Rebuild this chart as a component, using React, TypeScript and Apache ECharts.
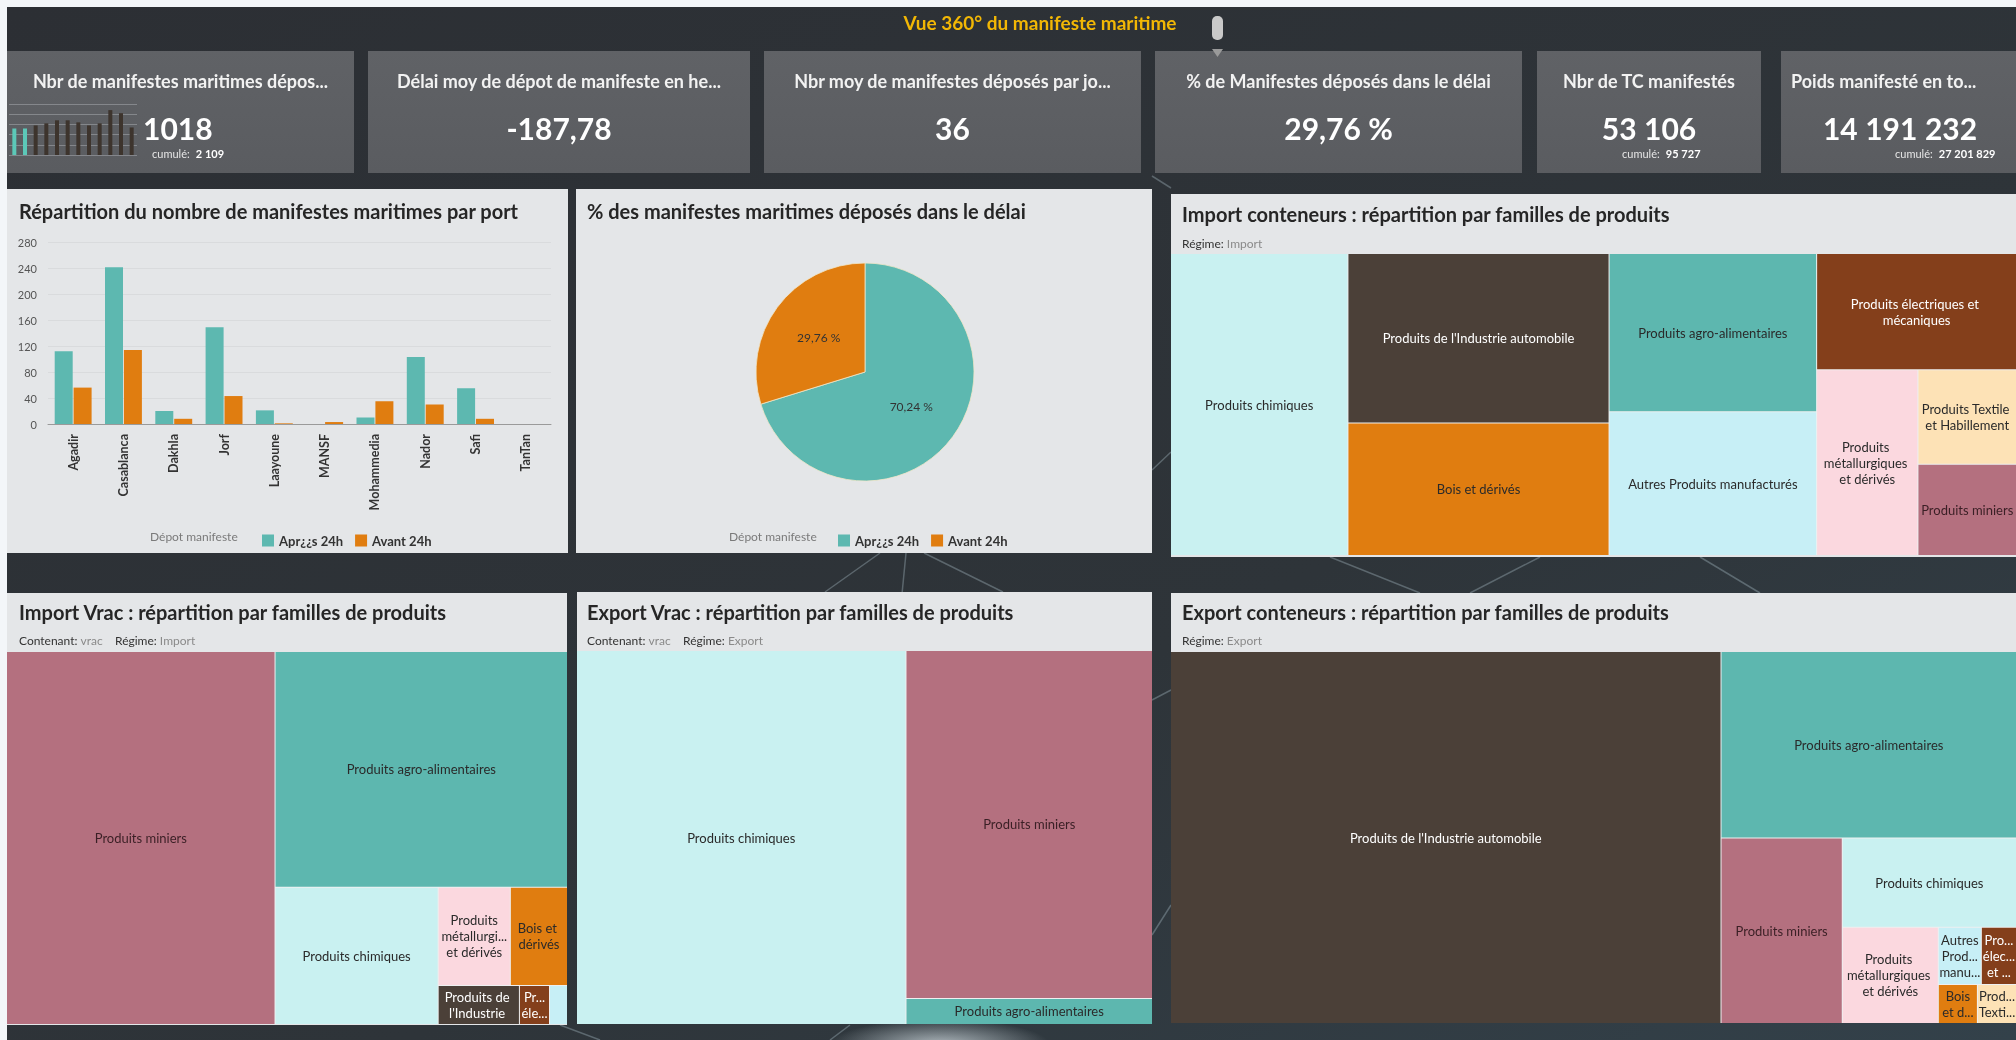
import React, { useEffect, useRef } from "react";
import * as echarts from "echarts";

// ---------- DATA ----------
const ports = ["Agadir", "Casablanca", "Dakhla", "Jorf", "Laayoune", "MANSF", "Mohammedia", "Nador", "Safi", "TanTan"];
const apres24h = [112, 241, 20, 149, 21, 0, 10, 103, 55, 0];
const avant24h = [56, 114, 8, 43, 1, 3, 35, 30, 8, 0];
const seriesNames = ["Apr¿¿s 24h", "Avant 24h"];
const pieValues = [715, 303];

const sparkValues = [26, 26, 29, 31, 34, 34, 32, 29, 31, 44, 41, 27];

const kpiTitles = [
  "Nbr de manifestes maritimes dépos...",
  "Délai moy de dépot de manifeste en he...",
  "Nbr moy de manifestes déposés par jo...",
  "% de Manifestes déposés dans le délai",
  "Nbr de TC manifestés",
  "Poids manifesté en to...",
];
const kpiValues = ["1018", "-187,78", "36", "29,76 %", "53\u202F106", "14\u202F191\u202F232"];
const kpiCumul = ["2\u202F109", "", "", "", "95\u202F727", "27\u202F201\u202F829"];

const importTCNames = [
  "Produits chimiques",
  "Produits de l'Industrie automobile",
  "Bois et dérivés",
  "Produits agro-alimentaires",
  "Autres Produits manufacturés",
  "Produits électriques et mécaniques",
  "Produits métallurgiques et dérivés",
  "Produits Textile et Habillement",
  "Produits miniers",
];
const importTCValues = [53000, 43800, 34200, 32500, 29500, 23000, 18600, 9200, 8900];

const importVracNames = [
  "Produits miniers",
  "Produits agro-alimentaires",
  "Produits chimiques",
  "Produits métallurgiques et dérivés",
  "Bois et dérivés",
  "Produits de l'Industrie automobile",
  "Produits électriques et mécaniques",
  "Autres Produits manufacturés",
];
const importVracValues = [99700, 68600, 22300, 7060, 5590, 3160, 1170, 700];

const exportVracNames = ["Produits chimiques", "Produits miniers", "Produits agro-alimentaires"];
const exportVracValues = [122700, 85400, 6400];

const exportTCNames = [
  "Produits de l'Industrie automobile",
  "Produits agro-alimentaires",
  "Produits miniers",
  "Produits chimiques",
  "Produits métallurgiques et dérivés",
  "Autres Produits manufacturés",
  "Produits électriques et mécaniques",
  "Produits Textile et Habillement",
  "Bois et dérivés",
];
const exportTCValues = [204000, 54900, 22400, 15500, 9200, 2450, 2000, 1520, 1520];

// ---------- STYLE ----------
const W = 2016;
const H = 1040;
const FONT = "Lato, 'Open Sans', sans-serif";
const TEAL = "#5db8b0";
const ORANGE = "#e07d10";
const PANEL = "#e4e6e8";
const familyColors: Record<string, string> = {
  "Produits chimiques": "#c9f1f1",
  "Produits de l'Industrie automobile": "#4b4038",
  "Bois et dérivés": "#e07d10",
  "Produits agro-alimentaires": "#5db7af",
  "Autres Produits manufacturés": "#c7eff6",
  "Produits électriques et mécaniques": "#843f1b",
  "Produits métallurgiques et dérivés": "#fbd8df",
  "Produits Textile et Habillement": "#fde2b6",
  "Produits miniers": "#b4707f",
};
const familyLabel: Record<string, string> = {
  "Produits de l'Industrie automobile": "#ffffff",
  "Produits électriques et mécaniques": "#ffffff",
  "Produits miniers": "#3a1f25",
};

function txt(text: string, x: number, y: number, opts: any = {}) {
  return {
    type: "text",
    z: 100,
    silent: true,
    style: {
      text,
      x,
      y,
      fill: opts.fill || "#2a2a2a",
      fontSize: opts.size || 12,
      fontWeight: opts.weight || "normal",
      fontFamily: FONT,
      align: opts.align || "left",
      textAlign: opts.align || "left",
      verticalAlign: "middle",
      textVerticalAlign: "middle",
      rich: opts.rich,
    },
  };
}

function rect(x: number, y: number, w: number, h: number, fill: any, z = -1, r = 0) {
  return { type: "rect", z, silent: true, shape: { x, y, width: w, height: h, r }, style: { fill } };
}

function line(x1: number, y1: number, x2: number, y2: number, op = 0.3) {
  return {
    type: "line",
    z: -3,
    silent: true,
    shape: { x1, y1, x2, y2 },
    style: { stroke: `rgba(200,222,232,${op})`, lineWidth: 1.5 },
  };
}

// one word per line, keeping short joiners ("et", "de") with the next word
function wordLines(name: string) {
  const words = name.split(" ");
  const lines: string[] = [];
  for (let i = 0; i < words.length; i++) {
    if ((words[i] === "et" || words[i] === "de") && i + 1 < words.length) {
      lines.push(words[i] + " " + words[i + 1]);
      i++;
    } else lines.push(words[i]);
  }
  return lines.join("\n");
}

// compact: names whose labels are split one word per line and truncated
function treemap(
  names: string[],
  values: number[],
  box: { left: number; top: number; width: number; height: number },
  compact: string[] = [],
  hidden: string[] = []
) {
  return {
    type: "treemap",
    ...box,
    z: 10,
    roam: false,
    nodeClick: false,
    silent: true,
    squareRatio: 1,
    sort: "desc",
    visibleMin: 0,
    breadcrumb: { show: false },
    label: {
      show: true,
      position: "inside",
      overflow: "break",
      fontSize: 13,
      lineHeight: 16,
      fontFamily: FONT,
      color: "#2a2a2a",
      padding: [2, 0],
    },
    itemStyle: { borderWidth: 0, gapWidth: 1, borderColor: "#eef0f1" },
    levels: [{ itemStyle: { borderWidth: 0, gapWidth: 1, borderColor: "#eef0f1" } }],
    emphasis: { disabled: true },
    data: names.map((n, i) => ({
      name: n,
      value: values[i],
      itemStyle: { color: familyColors[n] },
      label: {
        show: hidden.indexOf(n) < 0,
        color: familyLabel[n] || "#2a2a2a",
        ...(compact.indexOf(n) >= 0 ? { overflow: "truncate", formatter: (p: any) => wordLines(p.name) } : {}),
      },
    })),
  };
}

function buildOption() {
  const cards = [
    [7, 354],
    [368, 750],
    [764, 1141],
    [1155, 1522],
    [1537, 1761],
    [1781, 2030],
  ];
  const panels = [
    [7, 189, 561, 364],
    [576, 189, 576, 364],
    [1171, 194, 850, 363],
    [7, 593, 560, 432],
    [577, 592, 575, 432],
    [1171, 593, 850, 430],
  ];
  const graphics: any[] = [];
  // page & background
  graphics.push(rect(0, 0, W, H, "#f3f6f9", -6));
  graphics.push(
    rect(7, 7, W - 7, H - 7, {
      type: "linear",
      x: 0,
      y: 0,
      x2: 1,
      y2: 1,
      colorStops: [
        { offset: 0, color: "#2c2f34" },
        { offset: 0.6, color: "#2e3439" },
        { offset: 1, color: "#33414a" },
      ],
    }, -5)
  );
  graphics.push({
    type: "ellipse",
    z: -4,
    silent: true,
    shape: { cx: 940, cy: 1045, rx: 110, ry: 26 },
    style: {
      fill: {
        type: "radial",
        x: 0.5,
        y: 0.5,
        r: 0.5,
        colorStops: [
          { offset: 0, color: "rgba(230,240,245,0.7)" },
          { offset: 1, color: "rgba(230,240,245,0)" },
        ],
      },
    },
  });
  // decorative network lines
  graphics.push(line(880, 553, 825, 592));
  graphics.push(line(906, 553, 902, 594));
  graphics.push(line(924, 553, 1003, 592));
  graphics.push(line(1152, 470, 1171, 452));
  graphics.push(line(1152, 935, 1171, 905));
  graphics.push(line(1152, 700, 1171, 690));
  graphics.push(line(1330, 557, 1420, 593));
  graphics.push(line(1470, 593, 1540, 557));
  graphics.push(line(1700, 557, 1760, 593));
  graphics.push(line(1152, 176, 1171, 188));
  graphics.push(line(560, 1025, 600, 1040));
  graphics.push(line(850, 1025, 830, 1040));
  // header
  graphics.push(txt("Vue 360° du manifeste maritime", 1040, 22, { size: 19, weight: "bold", fill: "#f2b705", align: "center" }));
  graphics.push(rect(1212, 16, 11, 24, "#c9c9c9", 5, 5));
  graphics.push({
    type: "polygon",
    z: 5,
    silent: true,
    shape: { points: [[1212, 49], [1223, 49], [1217.5, 57]] },
    style: { fill: "#9a9a9a" },
  });
  // KPI cards
  cards.forEach(([x1, x2], i) => {
    graphics.push(
      rect(x1, 51, x2 - x1, 122, {
        type: "linear",
        x: 0,
        y: 0,
        x2: 0,
        y2: 1,
        colorStops: [
          { offset: 0, color: "#606266" },
          { offset: 1, color: "#5a5c60" },
        ],
      }, -1)
    );
    const cx = (x1 + Math.min(x2, 2016)) / 2;
    graphics.push(txt(kpiTitles[i], i === 5 ? 1791 : cx, 81, { size: 18, weight: "bold", fill: "#f2f2f2", align: i === 5 ? "left" : "center" }));
    if (i === 0) {
      graphics.push(txt(kpiValues[i], 143, 128, { size: 30, weight: "bold", fill: "#ffffff" }));
    } else {
      graphics.push(txt(kpiValues[i], i === 5 ? 1900 : cx, 128, { size: 30, weight: "bold", fill: "#ffffff", align: "center" }));
    }
  });
  const cumulX = [152, 0, 0, 0, 1622, 1895];
  kpiCumul.forEach((c, i) => {
    if (!c) return;
    graphics.push(
      txt(`{a|cumulé:}  {b|${c}}`, cumulX[i], 153, {
        rich: {
          a: { fill: "#e6e6e6", fontSize: 11, fontFamily: FONT },
          b: { fill: "#ffffff", fontSize: 11, fontWeight: "bold", fontFamily: FONT },
        },
      })
    );
  });
  // panels
  panels.forEach(([x, y, w, h]) => graphics.push(rect(x, y, w, h, PANEL, -1)));
  const titles: [string, number, number][] = [
    ["Répartition du nombre de manifestes maritimes par port", 19, 211],
    ["% des manifestes maritimes déposés dans le délai", 587, 211],
    ["Import conteneurs : répartition par familles de produits", 1182, 214],
    ["Import Vrac : répartition par familles de produits", 19, 612],
    ["Export Vrac : répartition par familles de produits", 587, 612],
    ["Export conteneurs : répartition par familles de produits", 1182, 612],
  ];
  titles.forEach(([t, x, y]) => graphics.push(txt(t, x, y, { size: 20, weight: "bold", fill: "#262626" })));
  const subRich = {
    a: { fill: "#333333", fontSize: 12, fontFamily: FONT },
    b: { fill: "#8a8a8a", fontSize: 12, fontFamily: FONT },
  };
  graphics.push(txt("{a|Régime:} {b|Import}", 1182, 243, { rich: subRich }));
  graphics.push(txt("{a|Contenant:} {b|vrac}    {a|Régime:} {b|Import}", 19, 640, { rich: subRich }));
  graphics.push(txt("{a|Contenant:} {b|vrac}    {a|Régime:} {b|Export}", 587, 640, { rich: subRich }));
  graphics.push(txt("{a|Régime:} {b|Export}", 1182, 640, { rich: subRich }));
  graphics.push(txt("Dépot manifeste", 150, 536, { size: 12, fill: "#7a7a7a" }));
  graphics.push(txt("Dépot manifeste", 729, 536, { size: 12, fill: "#7a7a7a" }));

  const legendBase = {
    top: 529,
    itemWidth: 12,
    itemHeight: 12,
    itemGap: 12,
    icon: "rect",
    selectedMode: false,
    data: seriesNames,
    z: 20,
    textStyle: { fontWeight: "bold", fontSize: 13, color: "#333", fontFamily: FONT },
  };

  return {
    animation: false,
    textStyle: { fontFamily: FONT },
    graphic: { elements: graphics },
    legend: [
      { ...legendBase, left: 257 },
      { ...legendBase, left: 833 },
    ],
    grid: [
      { left: 48, top: 242, width: 503, height: 182, z: 5 },
      { left: 9, top: 104, width: 128, height: 51, z: 5 },
    ],
    xAxis: [
      {
        type: "category",
        gridIndex: 0,
        z: 6,
        data: ports,
        axisTick: { show: false },
        axisLine: { lineStyle: { color: "#9a9a9a" } },
        axisLabel: { rotate: 90, interval: 0, margin: 10, fontWeight: "bold", fontSize: 12.5, color: "#333" },
      },
      {
        type: "category",
        gridIndex: 1,
        data: sparkValues.map((_, i) => String(i + 1)),
        show: false,
      },
    ],
    yAxis: [
      {
        type: "value",
        gridIndex: 0,
        z: 6,
        min: 0,
        max: 280,
        interval: 40,
        axisLine: { show: false },
        axisTick: { show: false },
        axisLabel: { fontSize: 11, color: "#555", margin: 11 },
        splitLine: { lineStyle: { color: "#d9dbdd" } },
      },
      {
        type: "value",
        gridIndex: 1,
        z: 6,
        min: 0,
        max: 50,
        interval: 10,
        axisLabel: { show: false },
        axisLine: { show: false },
        axisTick: { show: false },
        splitLine: { lineStyle: { color: "rgba(150,152,156,0.7)", width: 1 } },
      },
    ],
    series: [
      {
        type: "bar",
        name: seriesNames[0],
        xAxisIndex: 0,
        yAxisIndex: 0,
        data: apres24h,
        barWidth: 18,
        barGap: "5%",
        itemStyle: { color: TEAL },
        silent: true,
        z: 10,
      },
      {
        type: "bar",
        name: seriesNames[1],
        xAxisIndex: 0,
        yAxisIndex: 0,
        data: avant24h,
        barWidth: 18,
        barGap: "5%",
        itemStyle: { color: ORANGE },
        silent: true,
        z: 10,
      },
      {
        type: "bar",
        name: "spark",
        xAxisIndex: 1,
        yAxisIndex: 1,
        data: sparkValues.map((v, i) => ({ value: v, itemStyle: { color: i < 2 ? "#5cc8b8" : "#3d342d" } })),
        barWidth: 4,
        silent: true,
        z: 10,
      },
      {
        type: "pie",
        center: [865, 372],
        radius: [0, 109],
        startAngle: 90,
        clockwise: true,
        silent: true,
        z: 10,
        itemStyle: { borderColor: "rgba(240,230,200,0.8)", borderWidth: 1 },
        label: {
          position: "inside",
          fontSize: 12,
          color: "#333",
          formatter: (p: any) => `${p.percent.toFixed(2).replace(".", ",")} %`,
        },
        labelLine: { show: false },
        data: seriesNames.map((n, i) => ({ name: n, value: pieValues[i], itemStyle: { color: i === 0 ? TEAL : ORANGE } })),
      },
      treemap(importTCNames, importTCValues, { left: 1171, top: 254, width: 845, height: 301 }),
      treemap(
        importVracNames,
        importVracValues,
        { left: 7, top: 652, width: 560, height: 372 },
        ["Produits métallurgiques et dérivés", "Produits électriques et mécaniques"],
        ["Autres Produits manufacturés"]
      ),
      treemap(exportVracNames, exportVracValues, { left: 577, top: 651, width: 575, height: 373 }),
      treemap(
        exportTCNames,
        exportTCValues,
        { left: 1171, top: 652, width: 845, height: 371 },
        ["Autres Produits manufacturés", "Produits électriques et mécaniques", "Produits Textile et Habillement", "Bois et dérivés"]
      ),
    ],
  };
}

export default function App() {
  const ref = useRef<HTMLDivElement>(null);
  useEffect(() => {
    document.body.style.margin = "0";
    const chart = echarts.init(ref.current!, null, { renderer: "svg" });
    chart.setOption(buildOption() as any);
    return () => chart.dispose();
  }, []);
  return <div ref={ref} style={{ position: "fixed", left: 0, top: 0, width: W, height: H }} />;
}
